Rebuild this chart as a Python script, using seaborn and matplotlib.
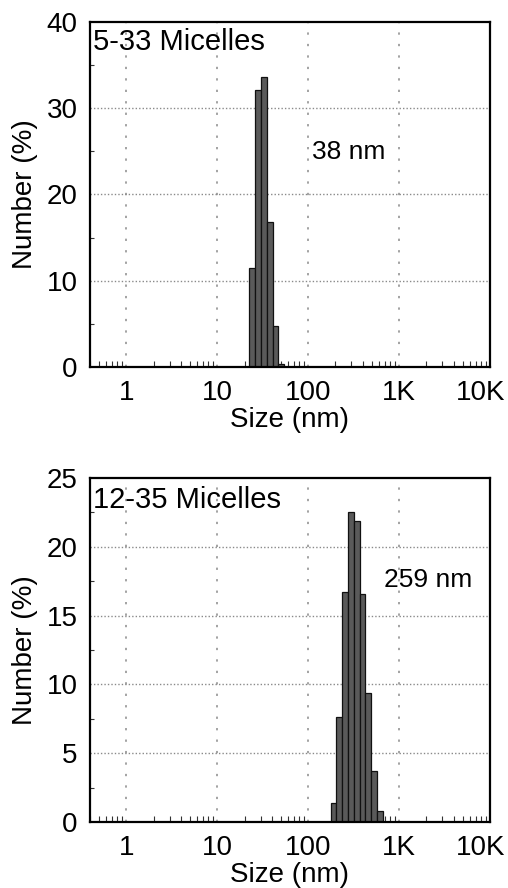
import numpy as np
import pandas as pd
import matplotlib
matplotlib.use("Agg")
import matplotlib.pyplot as plt
from matplotlib.ticker import LogLocator, NullFormatter, MultipleLocator
from matplotlib.transforms import ScaledTranslation
import seaborn as sns

# ---- data ----
top_sizes = [24.36, 28.21, 32.67, 37.84, 43.82, 50.75]          # nm (bin centres)
top_number = [11.5, 32.1, 33.6, 16.8, 4.75, 0.4]                  # Number (%)
bot_sizes = [190.1, 220.2, 255.0, 295.3, 342.0, 396.1, 458.7, 531.2, 615.1]
bot_number = [1.4, 7.6, 16.7, 22.5, 21.9, 16.6, 9.4, 3.7, 0.8]

titles = ["5-33 Micelles", "12-35 Micelles"]
peak_labels = ["38 nm", "259 nm"]
x_ticks = [1, 10, 100, 1000, 10000]
x_ticklabels = ["1", "10", "100", "1K", "10K"]
top_yticks = [0, 10, 20, 30, 40]
bot_yticks = [0, 5, 10, 15, 20, 25]

sns.set_style("white")
plt.rcParams["font.family"] = ["Liberation Sans", "DejaVu Sans"]
for k in ["text.color", "axes.labelcolor", "xtick.color", "ytick.color"]:
    plt.rcParams[k] = "black"
FS = 20
FS_TITLE = 21
FS_PEAK = 19

fig = plt.figure(figsize=(5.08, 8.88), dpi=100)
W, H = 508, 888

def px_axes(left, top, right, bottom):
    return fig.add_axes([left / W, 1 - bottom / H, (right - left) / W, (bottom - top) / H])

ax1 = px_axes(90, 22, 490, 367)
ax2 = px_axes(90, 478, 490, 822)

panels = [
    (ax1, top_sizes, top_number, top_yticks, titles[0], peak_labels[0], (110, 24.9), 0.919),
    (ax2, bot_sizes, bot_number, bot_yticks, titles[1], peak_labels[1], (690, 17.6), 0.913),
]

for ax, sizes, number, yticks, title, peak, peak_xy, title_y in panels:
    df = pd.DataFrame({"size": sizes, "number": number})
    logs = np.log10(df["size"].to_numpy())
    half = (logs[-1] - logs[0]) / (len(logs) - 1) / 2
    sns.histplot(data=df, x="size", weights="number", log_scale=True,
                 bins=len(sizes), binrange=(logs[0] - half, logs[-1] + half),
                 color="#5a5a5a", edgecolor="#111111", linewidth=0.9, alpha=1.0,
                 ax=ax)
    ax.set_xscale("log")
    ax.set_xlim(0.4, 10000)
    ax.set_ylim(yticks[0], yticks[-1])
    ax.set_xticks(x_ticks)
    ax.set_xticklabels(x_ticklabels, fontsize=FS)
    ax.xaxis.set_minor_locator(LogLocator(base=10, subs=np.arange(2, 10)))
    ax.xaxis.set_minor_formatter(NullFormatter())
    ax.set_yticks(yticks)
    ax.set_yticklabels([str(v) for v in yticks], fontsize=FS)
    ax.yaxis.set_minor_locator(MultipleLocator((yticks[1] - yticks[0]) / 2))
    ax.tick_params(axis="both", which="major", length=0, pad=9)
    ax.tick_params(axis="x", which="minor", direction="in", length=4, width=0.8,
                   bottom=True, top=False, color="#333333")
    ax.tick_params(axis="y", which="minor", direction="in", length=3, width=0.8,
                   left=True, right=False, color="#333333")
    # shift the last x label so it stays within the figure, as in the reference
    last = ax.get_xticklabels()[-1]
    last.set_transform(last.get_transform() + ScaledTranslation(-7 / 72, 0, fig.dpi_scale_trans))
    # grids
    for xv in x_ticks[:-1]:
        ax.axvline(xv, color="#8a8a8a", lw=1.1, ls=(0, (1.5, 6)), zorder=0)
    for yv in yticks[1:-1]:
        ax.axhline(yv, color="#8a8a8a", lw=1.0, ls=(0, (1, 1.5)), zorder=0)
    for s in ax.spines.values():
        s.set_visible(True)
        s.set_color("black")
        s.set_linewidth(1.6)
    ax.set_xlabel("Size (nm)", fontsize=FS, labelpad=1)
    ax.set_ylabel("Number (%)", fontsize=FS, labelpad=6)
    ax.text(0.008, title_y, title, transform=ax.transAxes, fontsize=FS_TITLE,
            ha="left", va="baseline")
    ax.text(peak_xy[0], peak_xy[1], peak, fontsize=FS_PEAK, ha="left", va="center")

fig.savefig("out.png", dpi=100)
